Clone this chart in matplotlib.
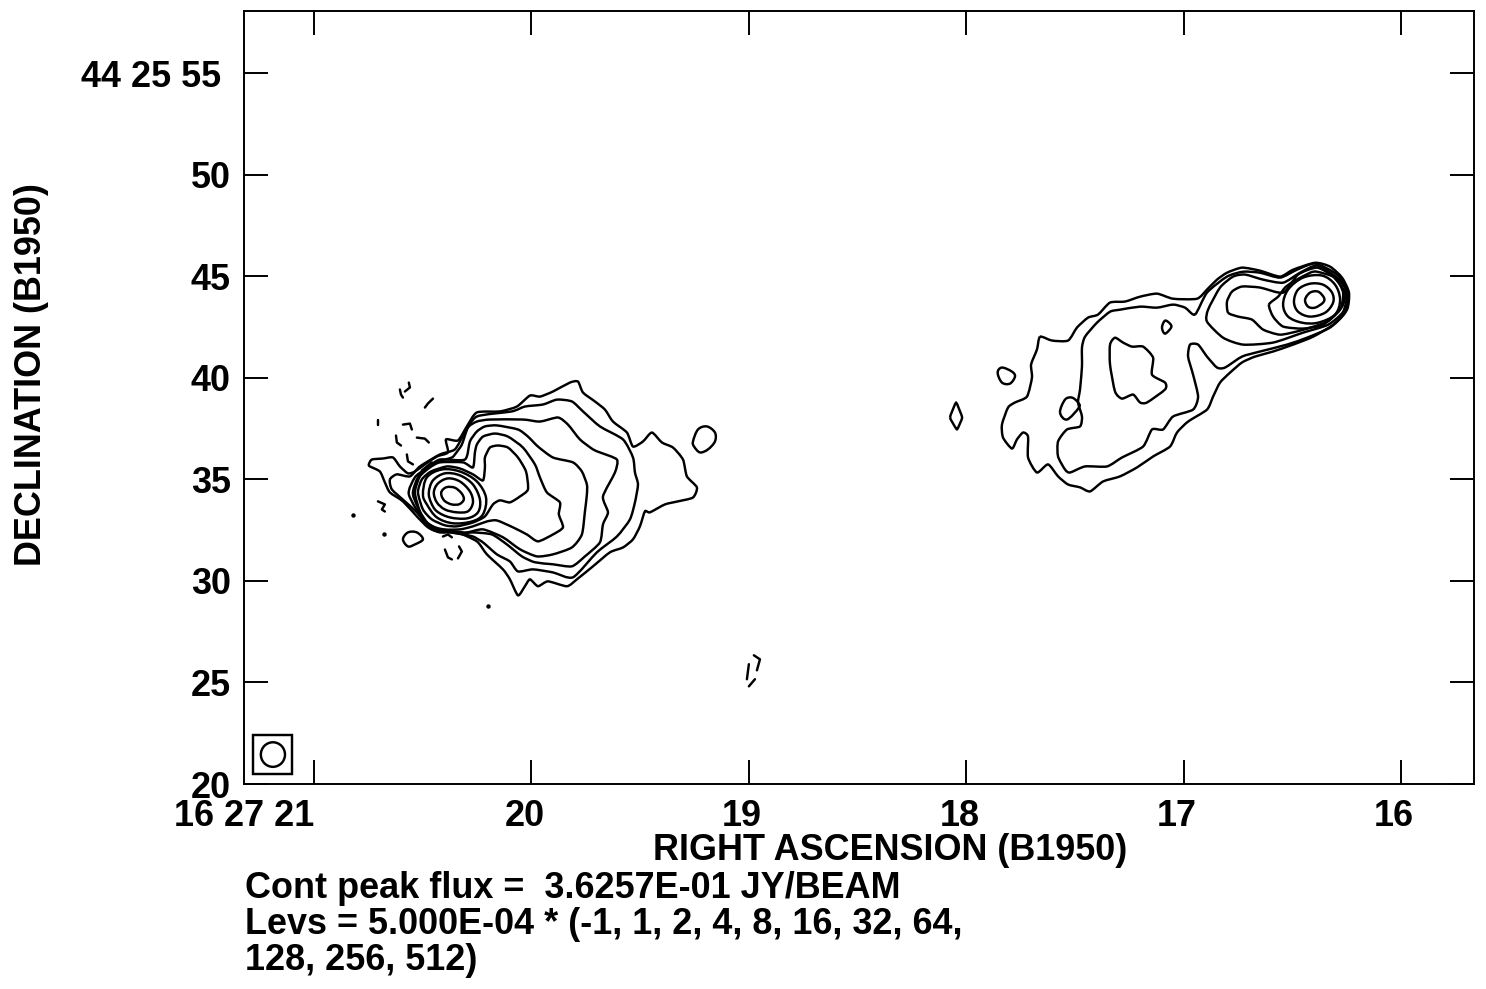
import matplotlib
matplotlib.use("Agg")
import matplotlib.pyplot as plt
from matplotlib.patches import Ellipse, Rectangle, PathPatch
from matplotlib.path import Path
from matplotlib.transforms import ScaledTranslation

plt.rcParams['font.family'] = ['Liberation Sans', 'DejaVu Sans']

# Axis ticks (RA seconds of 16 27 xx, Dec arcsec of 44 25 xx)
ra_ticks = [21, 20, 19, 18, 17, 16]
ra_labels = ['16 27 21', '20', '19', '18', '17', '16']
dec_ticks = [55, 50, 45, 40, 35, 30, 25, 20]
dec_labels = ['44 25 55', '50', '45', '40', '35', '30', '25', '20']

# Closed contours of the eastern lobe, (RA s, Dec ")
east_f = [(20.748,35.74),(20.734,35.98),(20.683,36.03),(20.637,36.08),(20.605,35.64),(20.568,35.30),(20.536,35.39),(20.490,35.74),(20.435,36.13),(20.384,36.33),(20.393,36.97),(20.338,36.92),(20.297,37.61),(20.251,38.30),(20.145,38.35),(20.067,38.59),(20.007,39.13),(19.961,39.08),(19.901,39.33),(19.823,39.77),(19.786,39.82),(19.763,39.28),(19.708,38.84),(19.662,38.44),(19.625,37.85),(19.561,37.31),(19.533,36.62),(19.487,36.87),(19.446,37.31),(19.400,36.82),(19.349,36.57),(19.303,35.98),(19.285,35.15),(19.239,34.61),(19.257,34.11),(19.326,33.92),(19.386,33.77),(19.455,33.38),(19.478,33.43),(19.501,32.69),(19.533,32.05),(19.579,31.65),(19.639,31.41),(19.717,30.72),(19.791,30.08),(19.837,29.74),(19.924,29.98),(19.970,29.74),(20.007,30.08),(20.030,29.74),(20.062,29.29),(20.099,30.08),(20.131,30.57),(20.205,31.31),(20.251,31.95),(20.343,32.39),(20.421,32.39),(20.476,32.64),(20.527,33.18),(20.591,33.92),(20.651,34.36),(20.674,34.85),(20.697,35.39),(20.743,35.64)]
east_e = [(20.651,35.00),(20.619,35.25),(20.559,35.15),(20.513,35.64),(20.421,36.23),(20.352,36.48),(20.306,37.31),(20.251,38.10),(20.090,38.35),(20.030,38.59),(19.947,38.69),(19.883,38.93),(19.814,38.84),(19.763,38.35),(19.685,37.61),(19.579,36.97),(19.533,36.08),(19.524,35.34),(19.510,34.75),(19.524,33.87),(19.547,33.03),(19.607,32.19),(19.699,31.41),(19.809,30.18),(19.901,30.42),(19.993,30.57),(20.062,30.47),(20.099,30.96),(20.159,31.31),(20.223,31.90),(20.269,32.19),(20.315,32.29),(20.398,32.44),(20.458,32.54),(20.527,33.38),(20.582,33.92),(20.642,34.51)]
east_d = [(20.564,34.26),(20.536,35.10),(20.490,35.49),(20.421,35.89),(20.366,36.08),(20.352,36.23),(20.320,36.72),(20.292,37.56),(20.251,37.85),(20.191,37.95),(20.039,37.95),(19.961,37.85),(19.878,38.05),(19.832,37.70),(19.777,36.97),(19.717,36.48),(19.685,36.33),(19.607,35.98),(19.616,35.34),(19.671,34.16),(19.648,33.38),(19.671,32.79),(19.685,31.90),(19.754,31.21),(19.814,30.72),(19.901,30.82),(19.984,30.92),(20.044,31.21),(20.113,31.80),(20.182,32.29),(20.269,32.39),(20.329,32.34),(20.421,32.49),(20.490,32.88)]
east_c = [(20.545,34.26),(20.522,35.10),(20.476,35.59),(20.421,35.98),(20.306,35.98),(20.283,36.87),(20.251,37.36),(20.214,37.61),(20.159,37.66),(20.062,37.46),(20.016,37.11),(19.970,36.62),(19.901,36.08),(19.809,35.84),(19.768,35.39),(19.745,34.75),(19.745,34.26),(19.754,33.42),(19.768,32.29),(19.814,31.65),(19.901,31.31),(19.975,31.21),(20.053,31.56),(20.131,32.15),(20.223,32.54),(20.297,32.39),(20.352,32.44),(20.444,32.64),(20.495,33.03)]
east_b = [(20.536,34.36),(20.513,35.15),(20.467,35.59),(20.421,35.84),(20.315,35.84),(20.269,35.59),(20.260,36.33),(20.251,36.72),(20.223,37.11),(20.168,37.26),(20.108,37.11),(20.039,36.57),(19.984,35.74),(19.961,35.10),(19.929,34.36),(19.869,33.87),(19.874,33.28),(19.855,32.64),(19.901,32.29),(19.970,31.95),(20.021,32.29),(20.085,32.64),(20.159,32.98),(20.205,32.93),(20.269,32.69),(20.329,32.54),(20.421,32.54),(20.476,32.84),(20.513,33.43)]
east_a = [(20.522,34.36),(20.504,35.00),(20.462,35.39),(20.389,35.64),(20.329,35.54),(20.269,35.25),(20.223,34.95),(20.214,35.59),(20.214,36.08),(20.191,36.57),(20.154,36.67),(20.108,36.57),(20.062,36.08),(20.025,35.39),(20.016,34.51),(20.053,34.16),(20.099,33.87),(20.145,33.97),(20.177,33.77),(20.214,33.18),(20.269,32.88),(20.343,32.69),(20.398,32.74),(20.458,33.03),(20.499,33.52)]
east_r4 = [(20.499,34.26),(20.481,35.10),(20.412,35.49),(20.329,35.39),(20.251,34.90),(20.209,34.11),(20.223,33.28),(20.274,32.93),(20.361,32.84),(20.435,33.13),(20.481,33.77)]
east_r3 = [(20.472,34.36),(20.453,34.95),(20.398,35.30),(20.329,35.20),(20.269,34.75),(20.237,34.01),(20.246,33.38),(20.297,33.08),(20.375,33.13),(20.435,33.43),(20.462,33.87)]
east_r2 = [(20.449,34.36),(20.430,34.80),(20.384,35.05),(20.329,34.90),(20.283,34.41),(20.269,33.87),(20.292,33.43),(20.343,33.38),(20.398,33.52),(20.435,33.87)]
east_r1 = [(20.413,34.42),(20.390,34.62),(20.352,34.59),(20.321,34.31),(20.311,34.01),(20.332,33.78),(20.367,33.77),(20.398,33.93),(20.413,34.18)]
east_blob1 = [(19.257,36.87),(19.234,37.46),(19.193,37.61),(19.156,37.31),(19.156,36.87),(19.188,36.48),(19.225,36.33),(19.252,36.62)]
east_blob2 = [(20.591,32.05),(20.568,32.39),(20.527,32.39),(20.499,32.05),(20.536,31.80),(20.568,31.70)]

# Closed contours of the western lobe
west_1 = [(17.661,42.03),(17.606,41.84),(17.532,41.84),(17.491,42.48),(17.440,42.97),(17.394,43.12),(17.339,43.71),(17.270,43.76),(17.201,44.00),(17.123,44.15),(17.049,43.90),(16.939,43.90),(16.893,44.35),(16.847,44.84),(16.801,45.18),(16.732,45.43),(16.649,45.28),(16.557,44.99),(16.497,45.33),(16.396,45.67),(16.327,45.48),(16.272,44.94),(16.240,44.20),(16.249,43.36),(16.313,42.62),(16.405,42.03),(16.497,41.64),(16.589,41.30),(16.672,41.05),(16.732,40.76),(16.787,40.26),(16.833,39.77),(16.865,39.08),(16.893,38.44),(16.980,37.85),(17.031,37.31),(17.063,36.62),(17.141,36.13),(17.215,35.59),(17.293,35.15),(17.371,34.90),(17.431,34.41),(17.477,34.61),(17.532,34.75),(17.578,35.15),(17.624,35.74),(17.675,35.34),(17.716,36.08),(17.716,37.11),(17.739,37.31),(17.767,36.97),(17.790,36.52),(17.831,37.06),(17.836,37.70),(17.808,38.54),(17.776,38.79),(17.721,39.08),(17.698,40.02),(17.702,40.66),(17.675,41.40)]
west_2 = [(16.948,43.12),(16.994,43.46),(17.049,43.61),(17.123,43.46),(17.201,43.51),(17.293,43.36),(17.339,43.26),(17.399,42.72),(17.454,42.03),(17.468,41.49),(17.468,40.56),(17.477,39.43),(17.486,38.79),(17.468,38.10),(17.477,37.61),(17.537,37.46),(17.578,36.87),(17.578,36.13),(17.546,35.49),(17.523,35.34),(17.454,35.64),(17.353,35.64),(17.284,36.08),(17.187,36.62),(17.146,37.46),(17.095,37.46),(17.049,38.10),(16.957,38.44),(16.934,39.08),(16.957,40.16),(16.980,41.05),(16.971,41.64),(16.934,41.64),(16.893,41.05),(16.847,40.51),(16.810,40.51),(16.732,41.05),(16.649,41.30),(16.525,41.64),(16.433,41.98),(16.327,42.48),(16.258,43.21),(16.244,44.20),(16.295,45.09),(16.396,45.63),(16.479,45.33),(16.557,44.94),(16.649,45.18),(16.727,45.23),(16.801,44.99),(16.893,44.20)]
west_3 = [(16.893,42.77),(16.888,43.36),(16.833,44.45),(16.773,44.99),(16.718,45.09),(16.635,44.84),(16.543,44.69),(16.465,45.18),(16.387,45.53),(16.295,44.94),(16.249,44.20),(16.267,43.26),(16.336,42.62),(16.451,42.23),(16.589,41.74),(16.727,41.64),(16.819,41.98)]
west_4 = [(16.796,43.21),(16.801,43.76),(16.778,44.25),(16.732,44.50),(16.649,44.45),(16.543,44.20),(16.474,45.09),(16.387,45.43),(16.313,44.99),(16.258,44.20),(16.272,43.51),(16.341,42.77),(16.465,42.33),(16.557,42.13),(16.635,42.38),(16.686,42.87),(16.750,43.02)]
west_5 = [(16.608,43.61),(16.589,43.02),(16.543,42.53),(16.451,42.43),(16.359,42.62),(16.281,43.36),(16.267,44.20),(16.304,44.94),(16.387,45.23),(16.419,45.18),(16.497,44.74),(16.534,44.45),(16.566,44.00)]
west_r3 = [(16.543,43.61),(16.520,44.35),(16.451,44.94),(16.364,45.04),(16.304,44.59),(16.281,43.85),(16.304,43.12),(16.382,42.72),(16.456,42.72),(16.520,43.02)]
west_r2 = [(16.493,43.76),(16.474,44.35),(16.419,44.64),(16.359,44.59),(16.318,44.20),(16.313,43.71),(16.350,43.21),(16.419,43.02),(16.474,43.26)]
west_r1 = [(16.442,43.85),(16.419,44.20),(16.382,44.25),(16.355,43.95),(16.359,43.71),(16.396,43.46),(16.428,43.51)]
west_island = [(17.339,41.64),(17.316,41.98),(17.279,41.74),(17.238,41.54),(17.187,41.54),(17.141,41.00),(17.146,40.16),(17.086,39.77),(17.086,39.43),(17.169,38.79),(17.201,38.79),(17.233,39.18),(17.284,38.98),(17.316,39.33),(17.339,40.66)]
west_blob1 = [(17.100,42.48),(17.086,42.82),(17.063,42.67),(17.058,42.48),(17.086,42.18)]
west_blob2 = [(17.569,38.30),(17.546,38.93),(17.514,39.03),(17.486,38.79),(17.482,38.54),(17.537,37.95)]
west_blob3 = [(17.856,40.26),(17.836,40.51),(17.790,40.31),(17.776,40.07),(17.799,39.72),(17.836,39.77)]
west_blob4 = [(18.075,38.05),(18.047,38.79),(18.019,38.05),(18.043,37.46)]

# Open pieces: short stub and the negative-level dashes
squiggle = [(20.706,33.92),(20.674,33.77),(20.688,33.52),(20.674,33.42)]
stub = [(20.706,37.95),(20.706,37.66)]
neg_dashes = [
    [(20.564,39.77),(20.559,39.53),(20.582,39.33)],
    [(20.605,39.43),(20.600,39.18),(20.591,39.03)],
    [(20.490,38.54),(20.476,38.74),(20.453,38.98)],
    [(20.591,37.70),(20.559,37.75),(20.550,37.46)],
    [(20.623,37.16),(20.619,36.82),(20.600,36.67)],
    [(20.527,37.06),(20.490,37.01),(20.472,36.82)],
    [(20.573,36.23),(20.568,35.89),(20.545,35.74)],
    [(20.504,35.44),(20.458,35.84)],
    [(20.407,32.19),(20.384,32.29),(20.366,32.15)],
    [(20.398,31.55),(20.384,31.16),(20.366,31.06)],
    [(20.333,31.70),(20.320,31.45),(20.338,31.11)],
    [(18.977,26.34),(18.949,26.14),(18.963,25.60)],
    [(19.000,25.90),(19.009,25.16)],
    [(18.972,25.16),(19.000,24.81)],
]
specks = [(20.821,33.23),(20.679,32.29),(20.200,28.75)]

lobe_contours = [east_f, east_e, east_d, east_c, east_b, east_a, west_1, west_2, west_3, west_4, west_5, west_island]
ring_contours = [east_r4, east_r3, east_r2, east_r1, east_blob1, east_blob2, west_r3, west_r2, west_r1,
                 west_blob1, west_blob2, west_blob3]
pointed_contours = [west_blob4]

# Beam marker
beam_ra, beam_dec = 21.189, 21.45
beam_w_ra, beam_h_dec = 0.111, 1.21
box_w_ra, box_h_dec = 0.179, 1.92

fig = plt.figure(figsize=(14.86, 9.89), dpi=100)
W, H = 1486, 989
ax = fig.add_axes([244/W, 1-784/H, (1474-244)/W, (784-11)/H])
ax.set_xlim(21.322, 15.665)
ax.set_ylim(20.05, 58.07)

LW = 1.75


def draw_closed(points, k):
    """Stroke a closed contour through its read points with rounded joins (Bezier handles only)."""
    n = len(points)
    verts = [points[0]]
    codes = [Path.MOVETO]
    for i in range(n):
        p0, p1, p2, p3 = points[i-1], points[i], points[(i+1) % n], points[(i+2) % n]
        verts.append((p1[0] + (p2[0]-p0[0])/k, p1[1] + (p2[1]-p0[1])/k))
        verts.append((p2[0] - (p3[0]-p1[0])/k, p2[1] - (p3[1]-p1[1])/k))
        verts.append(p2)
        codes += [Path.CURVE4] * 3
    ax.add_patch(PathPatch(Path(verts, codes), fc='none', ec='black', lw=LW, joinstyle='round'))


def draw_open(points):
    ax.plot([p[0] for p in points], [p[1] for p in points], color='black', lw=LW,
            solid_joinstyle='round', solid_capstyle='round')


for c in lobe_contours:
    draw_closed(c, 9)
for c in ring_contours:
    draw_closed(c, 6)
for c in pointed_contours:
    draw_closed(c, 20)
draw_open(squiggle)
draw_open(stub)
for d in neg_dashes:
    draw_open(d)
ax.plot([p[0] for p in specks], [p[1] for p in specks], 'o', color='black', ms=3.2, mew=0)

ax.add_patch(Ellipse((beam_ra, beam_dec), beam_w_ra, beam_h_dec, fc='none', ec='black', lw=LW))
ax.add_patch(Rectangle((beam_ra-box_w_ra/2, beam_dec-box_h_dec/2), box_w_ra, box_h_dec, fc='none', ec='black', lw=LW))

FS = 25.9
for s in ax.spines.values():
    s.set_linewidth(1.4)
ax.set_xticks(ra_ticks)
ax.set_xticklabels(ra_labels, fontsize=FS, fontweight='bold')
ax.set_yticks(dec_ticks)
ax.set_yticklabels(dec_labels, fontsize=FS, fontweight='bold')
ax.tick_params(axis='both', which='major', direction='in', length=17.5, width=1.4,
               top=True, right=True)
ax.tick_params(axis='x', pad=11)
ax.tick_params(axis='y', pad=9.5)

xl = ax.get_xticklabels()
xl[0].set_ha('right')
for lab in xl[1:]:
    lab.set_transform(lab.get_transform() + ScaledTranslation(-0.07, 0, fig.dpi_scale_trans))
yl = ax.get_yticklabels()
yl[0].set_transform(yl[0].get_transform() + ScaledTranslation(-0.10, 0, fig.dpi_scale_trans))

fig.text(890/W, 1-851/H, 'RIGHT ASCENSION (B1950)', fontsize=FS, fontweight='bold', ha='center', va='center')
fig.text(32/W, 1-375/H, 'DECLINATION (B1950)', fontsize=FS, fontweight='bold', ha='center', va='center', rotation=90)
fig.text(245/W, 1-889/H, 'Cont peak flux =  3.6257E-01 JY/BEAM', fontsize=FS, fontweight='bold', ha='left', va='center')
fig.text(245/W, 1-925/H, 'Levs = 5.000E-04 * (-1, 1, 2, 4, 8, 16, 32, 64,', fontsize=FS, fontweight='bold', ha='left', va='center')
fig.text(245/W, 1-961/H, '128, 256, 512)', fontsize=FS, fontweight='bold', ha='left', va='center')

fig.savefig('out.png', dpi=100)
